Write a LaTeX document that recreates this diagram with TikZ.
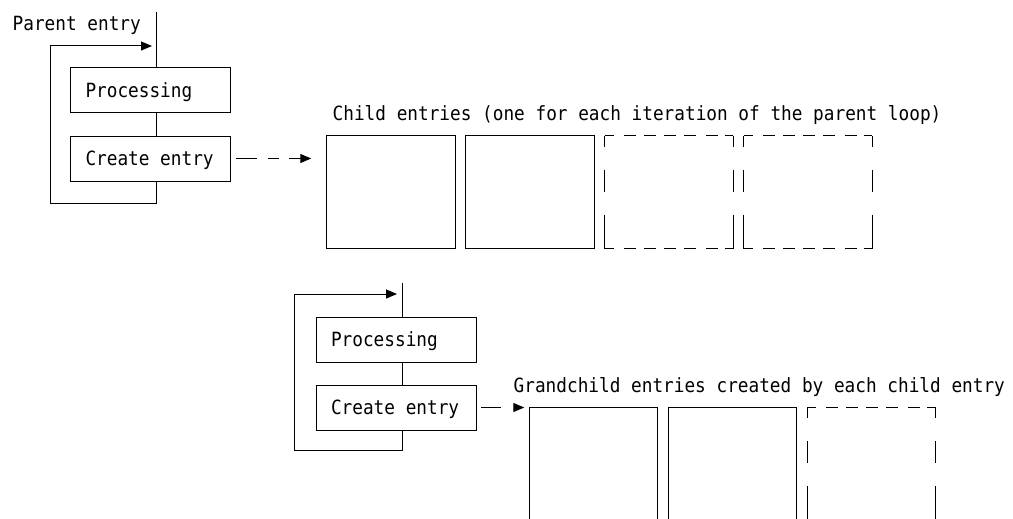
\documentclass[tikz,border=0pt]{standalone}
\usepackage{fontspec}
\setmonofont{DejaVu Sans Mono}[FakeStretch=0.905]
\usetikzlibrary{positioning,arrows.meta}

\begin{document}
\begin{tikzpicture}[
    x=1pt, y=-1pt,
    node distance=23pt and 10.5pt,
    stepbox/.style={rectangle, draw, line width=1pt, text width=130pt,
        inner xsep=15pt, inner ysep=0pt, outer sep=0pt, minimum height=45pt,
        align=left, text height=14.3pt, text depth=0pt,
        execute at begin node={\spaceskip=0pt\relax},
        font=\ttfamily\fontsize{19.6}{23}\selectfont},
    entry/.style={rectangle, draw, line width=1pt, inner sep=0pt, outer sep=0pt,
        minimum width=128.5pt, minimum height=113pt},
    spare/.style={entry, draw=none},
    hdash/.style={line width=1pt, dash pattern=on 9pt off 10pt on 12pt off 8pt on 12pt off 8pt
        on 12pt off 8pt on 12pt off 10pt on 12pt off 7pt on 20pt},
    vdash/.style={line width=1pt, dash pattern=on 11pt off 23pt on 22pt off 23pt on 40pt},
    link/.style={line width=1pt},
    flow/.style={link, -{Triangle[length=11pt, width=9pt]}},
    caption/.style={font=\ttfamily\fontsize{19.6}{23}\selectfont, inner sep=0pt,
        anchor=base west}
]
\path[use as bounding box] (0,0) rectangle (1013,519);
\clip (0,0) rectangle (1013,519);

% Parent loop
\node[caption] (parent) at (12.5,31) {Parent entry};
\node[stepbox] (proc1) at (150.5,90.5) {Processing};
\node[stepbox, below=of proc1] (create1) {Create entry};
\coordinate (top1) at (156,12);
\coordinate (ret1) at (50,46);

\draw[link] (top1) -- (top1 |- proc1.north);
\draw[link] (proc1.south -| top1) -- (create1.north -| top1);
\draw[flow] (create1.south -| top1) -- ++(0,22) -| (ret1) -- ([xshift=-4pt]ret1 -| top1);

% Child entries
\node[caption] (childcap) at (332.5,121) {Child entries (one for each iteration of the parent loop)};
\node[entry] (c1) at (391,192) {};
\node[entry, right=of c1] (c2) {};
\node[spare, right=of c2] (c3) {};
\node[spare, right=of c3] (c4) {};

\draw[hdash] (c3.north west) -- (c3.north east) (c3.south west) -- (c3.south east);
\draw[vdash] (c3.north west) -- (c3.south west) (c3.north east) -- (c3.south east);
\draw[hdash] (c4.north west) -- (c4.north east) (c4.south west) -- (c4.south east);
\draw[vdash] (c4.north west) -- (c4.south west) (c4.north east) -- (c4.south east);

\draw[flow, shorten <=5pt, shorten >=15.5pt,
    dash pattern=on 21pt off 11pt on 11pt off 10pt on 30pt]
    (create1.east) -- (create1.east -| c1.west);

% Child loop
\node[stepbox] (proc2) at (396,339.5) {Processing};
\node[stepbox, below=of proc2] (create2) {Create entry};
\coordinate (top2) at (402,283);
\coordinate (ret2) at (294.5,294);

\draw[link] (top2) -- (top2 |- proc2.north);
\draw[link] (proc2.south -| top2) -- (create2.north -| top2);
\draw[flow] (create2.south -| top2) -- ++(0,20) -| (ret2) -- ([xshift=-5pt]ret2 -| top2);

% Grandchild entries
\node[caption] (grandcap) at (513.5,392) {Grandchild entries created by each child entry};
\node[entry, minimum height=140pt, anchor=north] (g1) at (593.5,407) {};
\node[entry, minimum height=140pt, right=of g1] (g2) {};
\node[spare, minimum height=140pt, right=of g2] (g3) {};

\draw[hdash] (g3.north west) -- (g3.north east);
\draw[vdash] (g3.north west) -- (g3.south west) (g3.north east) -- (g3.south east);

\draw[flow, shorten <=5pt, shorten >=5pt, dash pattern=on 20pt off 30pt]
    (create2.east) -- (create2.east -| g1.west);

\end{tikzpicture}
\end{document}
